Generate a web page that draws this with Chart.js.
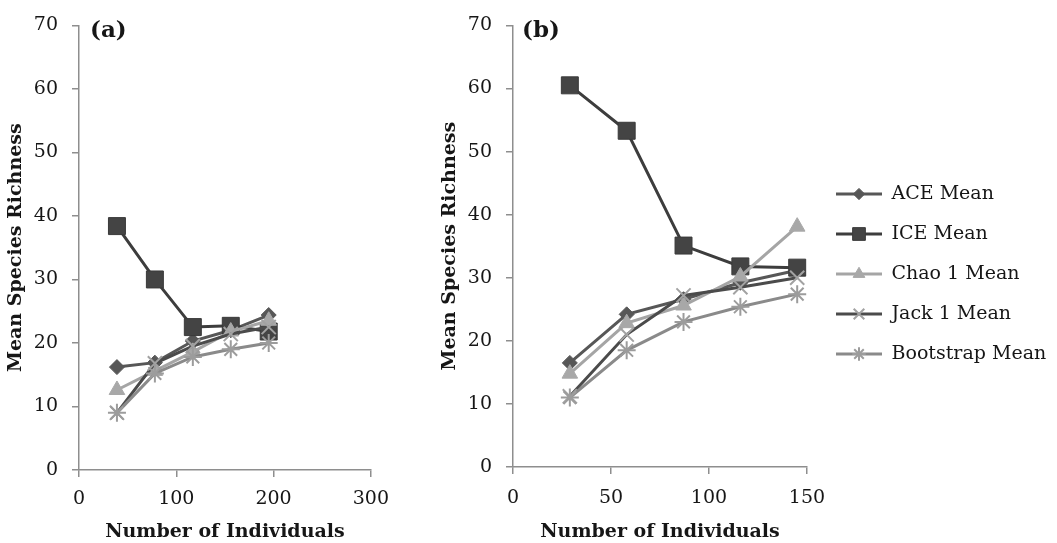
<!DOCTYPE html>
<html>
<head>
<meta charset="utf-8">
<script src="https://cdn.jsdelivr.net/npm/chart.js@4.4.1/dist/chart.umd.min.js"></script>
<style>
  html, body { margin: 0; padding: 0; background: #fff; }
  #wrapA { position: absolute; left: 0; top: 0; width: 400px; height: 543px; }
  #wrapB { position: absolute; left: 436px; top: 0; width: 621px; height: 543px; }
</style>
</head>
<body>
<div id="wrapA"><canvas id="chartA" width="400" height="543"></canvas></div>
<div id="wrapB"><canvas id="chartB" width="621" height="543"></canvas></div>
<script>
// series names (legend order)
const seriesNames = ["ACE Mean", "ICE Mean", "Chao 1 Mean", "Jack 1 Mean", "Bootstrap Mean"];

// panel (a)
const individualsA = [39, 78, 117, 156, 195];
const aceA = [16.2, 16.9, 20.3, 22.0, 24.4];
const iceA = [38.4, 30.0, 22.5, 22.7, 21.8];
const chaoA = [12.6, 15.6, 18.6, 21.8, 23.5];
const jackA = [9.0, 16.8, 19.5, 21.4, 22.5];
const bootA = [9.0, 15.2, 17.8, 19.0, 20.0];

// panel (b)
const individualsB = [29, 58, 87, 116, 145];
const aceB = [16.5, 24.2, 26.6, 29.2, 31.2];
const iceB = [60.5, 53.3, 35.1, 31.8, 31.6];
const chaoB = [14.8, 22.8, 25.6, 30.2, 38.1];
const jackB = [11.2, 21.0, 27.2, 28.5, 30.0];
const bootB = [11.0, 18.5, 23.0, 25.4, 27.4];

// tick labels
const yTicks = [0, 10, 20, 30, 40, 50, 60, 70];
const xTicksA = [0, 100, 200, 300];
const xTicksB = [0, 50, 100, 150];

const serif = "'DejaVu Serif', serif";
const textColor = "#161616";
const axisGray = "#8e8e8e";

const styles = [
  { line: "#575757", fill: "#575757", border: "#575757", shape: "rectRot", r: 7.5, bw: 1 },
  { line: "#3d3d3d", fill: "#444444", border: "#3a3a3a", shape: "rect", r: 12, bw: 1 },
  { line: "#a5a5a5", fill: "#a8a8a8", border: "#a8a8a8", shape: "triangle", r: 9, bw: 1 },
  { line: "#4b4b4b", fill: "#a2a2a2", border: "#a2a2a2", shape: "crossRot", r: 10, bw: 2 },
  { line: "#8a8a8a", fill: "#9c9c9c", border: "#9c9c9c", shape: "star", r: 9, bw: 2 }
];

function makeDatasets(xs, seriesList) {
  return seriesList.map((vals, i) => ({
    label: seriesNames[i],
    data: vals.map((v, k) => ({ x: xs[k], y: v })),
    borderColor: styles[i].line,
    borderWidth: 3,
    pointStyle: styles[i].shape,
    pointRadius: styles[i].r,
    pointBackgroundColor: styles[i].fill,
    pointBorderColor: styles[i].border,
    pointBorderWidth: styles[i].bw,
    tension: 0,
    order: seriesList.length - 1 - i
  }));
}

// small line+marker icons for the legend
function makeIcon(i) {
  const c = document.createElement("canvas");
  c.width = 54; c.height = 20;
  const g = c.getContext("2d");
  g.strokeStyle = styles[i].line;
  g.lineWidth = 3;
  g.beginPath(); g.moveTo(8, 10); g.lineTo(54, 10); g.stroke();
  g.fillStyle = styles[i].fill;
  g.strokeStyle = styles[i].border;
  g.lineWidth = styles[i].bw;
  Chart.helpers.drawPoint(g, { pointStyle: styles[i].shape, radius: styles[i].r * 0.75, borderWidth: styles[i].bw, rotation: 0 }, 31, 10);
  return c;
}

function yScale(titlePad, width) {
  return {
    type: "linear",
    min: 0, max: 70,
    afterBuildTicks: s => { s.ticks = yTicks.map(v => ({ value: v })); },
    ticks: { padding: 14, color: textColor, font: { family: serif, size: 19 } },
    grid: { drawOnChartArea: false, drawTicks: true, tickLength: 7, color: axisGray, lineWidth: 1.5 },
    border: { color: axisGray, width: 1.5 },
    title: {
      display: true, text: "Mean Species Richness", color: textColor,
      font: { family: serif, size: 19, weight: "bold" },
      padding: { top: titlePad, bottom: 0 }
    },
    afterFit: s => { s.width = width; }
  };
}

function xScale(ticks, height, titlePad, tickPad) {
  return {
    type: "linear",
    min: ticks[0], max: ticks[ticks.length - 1],
    afterBuildTicks: s => { s.ticks = ticks.map(v => ({ value: v })); },
    ticks: { padding: tickPad, color: textColor, font: { family: serif, size: 19 }, maxRotation: 0 },
    grid: { drawOnChartArea: false, drawTicks: true, tickLength: 7, color: axisGray, lineWidth: 1.5 },
    border: { color: axisGray, width: 1.5 },
    title: {
      display: true, text: "Number of Individuals", color: textColor,
      font: { family: serif, size: 19, weight: "bold" },
      padding: { top: 0, bottom: titlePad }
    },
    afterFit: s => { s.height = height; }
  };
}

// panel letter inside the plot area
const panelLabel = {
  id: "panelLabel",
  afterDraw(chart, args, opts) {
    const ctx = chart.ctx;
    ctx.save();
    ctx.font = "bold 23px " + serif;
    ctx.fillStyle = textColor;
    ctx.textBaseline = "middle";
    ctx.fillText(opts.text, chart.chartArea.left + opts.dx, 31);
    ctx.restore();
  }
};

// the layout caps a side legend at a quarter of the canvas; give it a fixed width instead
const legendWidth = {
  id: "legendWidth",
  afterInit(chart, args, opts) {
    const lg = chart.legend;
    if (!lg) return;
    const fit = lg.fit.bind(lg);
    lg.fit = function () {
      fit();
      this.width = opts.width;
    };
  }
};

new Chart(document.getElementById("chartA"), {
  type: "line",
  data: { datasets: makeDatasets(individualsA, [aceA, iceA, chaoA, jackA, bootA]) },
  options: {
    responsive: false,
    animation: false,
    layout: { padding: { top: 15, right: 22, bottom: 0, left: 0 } },
    scales: { x: xScale(xTicksA, 73, 0, 11), y: yScale(4.6, 79) },
    plugins: {
      legend: { display: false },
      tooltip: { enabled: false },
      panelLabel: { text: "(a)", dx: 11 }
    }
  },
  plugins: [panelLabel]
});

new Chart(document.getElementById("chartB"), {
  type: "line",
  data: { datasets: makeDatasets(individualsB, [aceB, iceB, chaoB, jackB, bootB]) },
  options: {
    responsive: false,
    animation: false,
    layout: { padding: { top: 17, right: 0, bottom: 12, left: 0 } },
    scales: { x: xScale(xTicksB, 64, -12.4, 13), y: yScale(2.6, 77) },
    plugins: {
      legend: {
        display: true,
        position: "right",
        align: "center",
        labels: {
          usePointStyle: true,
          pointStyleWidth: 54,
          padding: 21,
          color: textColor,
          font: { family: serif, size: 19 },
          generateLabels: chart => chart.data.datasets.map((ds, i) => ({
            text: ds.label,
            pointStyle: makeIcon(i),
            fillStyle: styles[i].fill,
            strokeStyle: styles[i].line,
            lineWidth: 0,
            hidden: false,
            datasetIndex: i,
            fontColor: textColor
          }))
        }
      },
      legendWidth: { width: 250 },
      tooltip: { enabled: false },
      panelLabel: { text: "(b)", dx: 9 }
    }
  },
  plugins: [panelLabel, legendWidth]
});
</script>
</body>
</html>
